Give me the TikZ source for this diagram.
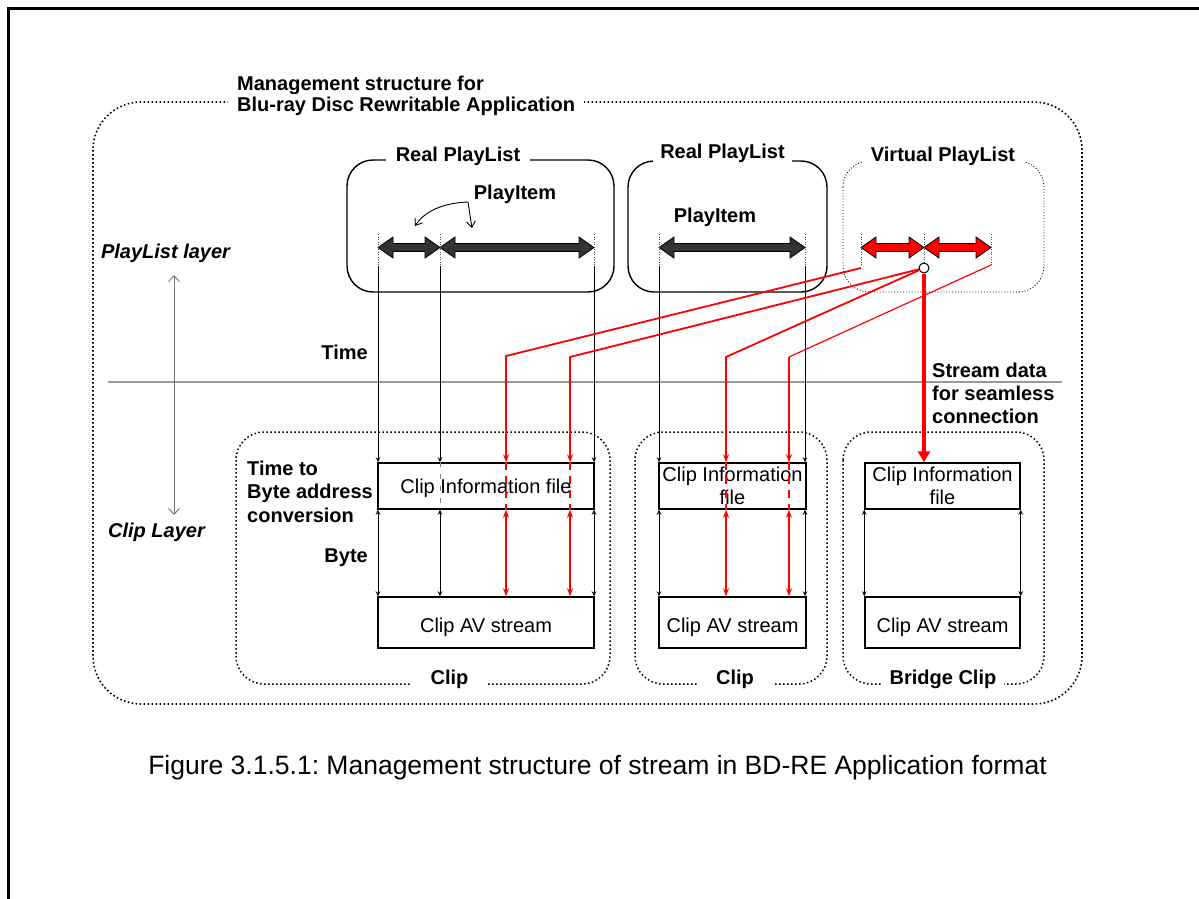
\documentclass[tikz,border=0pt]{standalone}
\usepackage{fontspec}
\setmainfont{Liberation Sans}
\usetikzlibrary{arrows.meta,positioning}
\frenchspacing

% block arrow of one PlayItem: left x, right x, fill colour
\newcommand{\itemarrow}[3]{%
  \filldraw[fill=#3, draw=black, line width=0.8pt]
    (#1,247.5) -- ({#1+15},237) -- ({#1+15},243.5) -- ({#2-15},243.5)
    -- ({#2-15},237) -- (#2,247.5) -- ({#2-15},258) -- ({#2-15},251.5)
    -- ({#1+15},251.5) -- ({#1+15},258) -- cycle;
}

\begin{document}
\begin{tikzpicture}[x=1pt, y=-1pt,
    txt/.style={inner sep=0pt, font=\fontsize{20}{23}\selectfont},
    lbl/.style={inner sep=0pt, font=\fontsize{20}{23}\selectfont\bfseries},
    layer/.style={inner sep=0pt, font=\fontsize{20}{23}\selectfont\bfseries\itshape},
    gap/.style={lbl, fill=white, inner xsep=#1, inner ysep=3pt},
    gap/.default=8pt,
    outerbox/.style={line width=1.6pt, dash pattern=on 1.6pt off 2.4pt, rounded corners=48pt},
    plbox/.style={draw, line width=1.4pt, rounded corners=26pt},
    vplbox/.style={draw, line width=0.9pt, dash pattern=on 0.9pt off 2pt, rounded corners=26pt},
    clipbox/.style={draw, line width=1.5pt, dash pattern=on 1.5pt off 2.5pt, rounded corners=28pt},
    filebox/.style={draw, line width=1.5pt, inner sep=0pt, align=center, font=\fontsize{20}{23}\selectfont},
    tick/.style={line width=0.7pt, black!70, dash pattern=on 1pt off 1.5pt},
    conn/.style={line width=1pt, -{Stealth[length=5pt, width=4.5pt]}},
    both/.style={line width=1pt, {Stealth[length=5pt, width=4.5pt]}-{Stealth[length=5pt, width=4.5pt]}},
    inside/.style={line width=1pt, black!50, dash pattern=on 5pt off 7pt},
    redconn/.style={red, line width=1.8pt, -{Stealth[length=8pt, width=6pt]}},
    redboth/.style={red, line width=1.8pt, {Stealth[length=8pt, width=6pt]}-{Stealth[length=8pt, width=6pt]}},
    redinside/.style={red, line width=1.8pt, dash pattern=on 8pt off 6pt},
    barb/.style={line width=0.9pt, -{Straight Barb[length=6pt, width=9pt]}},
  ]
  \useasboundingbox (0,0) rectangle (1199,899);
  % page frame
  \draw[line width=3pt] (8,905) -- (8,9) -- (1205,9);

  % management structure
  \draw[outerbox] (93,102) rectangle (1082,704);
  \node[lbl, anchor=base west] (ttl1) at (237,90) {Management structure for};
  \node[gap=9pt, anchor=base west] (ttl2) at (228,111) {Blu-ray Disc Rewritable Application};

  % layers
  \draw[line width=2.7pt, black!40] (108,382) -- (1062,382);
  \draw[line width=0.9pt, black!55, {Straight Barb[length=6pt, width=11pt]}-{Straight Barb[length=6pt, width=11pt]}] (174,275) -- (174,515);
  \node[layer, anchor=base] (plyr) at (165.5,258) {PlayList layer};
  \node[layer, anchor=base] (clyr) at (156.5,537) {Clip Layer};
  \node[lbl, anchor=base east] (time) at (368,359) {Time};
  \node[lbl, anchor=base east] (byte) at (368,562) {Byte};
  \node[lbl, anchor=base west] (conv1) at (247,475) {Time to};
  \node[lbl, anchor=base west] (conv2) at (247,498) {Byte address};
  \node[lbl, anchor=base west] (conv3) at (247,522) {conversion};

  % PlayLists
  \draw[plbox] (347,160) rectangle (614,292);
  \node[gap=10pt, anchor=base] (rpl1) at (458,161) {Real PlayList};
  \draw[plbox] (628,161) rectangle (827,292);
  \node[gap=7pt, anchor=base] (rpl2) at (722.5,158) {Real PlayList};
  \draw[vplbox] (843,161) rectangle (1044,292);
  \node[gap=8.5pt, anchor=base] (vpl) at (943,161) {Virtual PlayList};

  \node[lbl, anchor=base] (item1) at (515,199) {PlayItem};
  \node[lbl, anchor=base] (item2) at (715,222) {PlayItem};
  \coordinate (isrc) at (468,202);
  \draw[barb] (isrc) .. controls (443,203) and (425,211) .. (415,226);
  \draw[barb] (isrc) -- (472,228);

  \itemarrow{378}{440}{black!80}
  \itemarrow{440}{594}{black!80}
  \itemarrow{659}{805}{black!80}
  \itemarrow{861}{924}{red}
  \itemarrow{924}{991}{red}
  \foreach \x in {378,440,594,659,805,861,991}
    \draw[tick] (\x,234) -- (\x,266);
  \draw[tick] (924,234) -- (924,262);

  % Clips
  \draw[clipbox] (236,432) rectangle (610,684);
  \node[gap=20pt, anchor=base] (clip1) at (449.5,684) {Clip};
  \draw[clipbox] (635,432) rectangle (827,684);
  \node[gap=19.5pt, anchor=base] (clip2) at (735,684) {Clip};
  \draw[clipbox] (843,432) rectangle (1044,684);
  \node[gap=8pt, anchor=base] (bclip) at (943,684) {Bridge Clip};

  \node[filebox, minimum width=216pt, minimum height=46pt, text height=14pt, text depth=0pt] (ci1) at (486,486) {Clip Information file};
  \node[filebox, minimum width=216pt, minimum height=51pt, text height=19pt, text depth=0pt] (av1) at (486,622.5) {Clip AV stream};
  \node[filebox, minimum width=147pt, minimum height=46pt] (ci2) at (732.5,486) {Clip Information\\file};
  \node[filebox, minimum width=147pt, minimum height=51pt, text height=19pt, text depth=0pt] (av2) at (732.5,622.5) {Clip AV stream};
  \node[filebox, minimum width=155pt, minimum height=46pt] (ci3) at (942.5,486) {Clip Information\\file};
  \node[filebox, minimum width=155pt, minimum height=51pt, text height=19pt, text depth=0pt] (av3) at (942.5,622.5) {Clip AV stream};

  % time to byte: real PlayLists
  \coordinate (ra) at (378,266);
  \coordinate (rb) at (440,266);
  \coordinate (rc) at (594,266);
  \coordinate (rd) at (659,266);
  \coordinate (re) at (805,266);
  \foreach \p/\c/\s in {ra/ci1/av1, rb/ci1/av1, rc/ci1/av1, rd/ci2/av2, re/ci2/av2} {
    \draw[conn] (\p) -- (\p |- \c.north);
    \draw[both] (\p |- \c.south) -- (\p |- \s.north);
  }
  \draw[inside] (rb |- ci1.north) -- (rb |- ci1.south);
  \draw[both] (ci3.south west) -- (av3.north west);
  \draw[both] (ci3.south east) -- (av3.north east);

  % time to byte: virtual PlayList
  \node[circle, draw, fill=white, line width=1pt, minimum size=10pt, inner sep=0pt] (join) at (924,268) {};
  \coordinate (va) at (861,268);
  \coordinate (vc) at (991,265);
  \coordinate (ka) at (506,356);
  \coordinate (kb) at (570,357);
  \coordinate (kc) at (726,357);
  \coordinate (kd) at (789,357);
  \draw[redconn] (va) -- (ka) -- (ka |- ci1.north);
  \draw[redconn] (join) -- (kb) -- (kb |- ci1.north);
  \draw[redconn] (join) -- (kc) -- (kc |- ci2.north);
  \draw[red, line width=1.2pt] (vc) -- (kd);
  \draw[redconn] (kd) -- (kd |- ci2.north);
  \foreach \k/\c/\s in {ka/ci1/av1, kb/ci1/av1, kc/ci2/av2, kd/ci2/av2} {
    \draw[redinside] (\k |- \c.north) -- (\k |- \c.south);
    \draw[redboth] (\k |- \c.south) -- (\k |- \s.north);
  }
  \draw[red, line width=4.5pt, -{Triangle[length=11pt, width=12pt]}] (join) -- (join |- ci3.north);
  \node[lbl, anchor=base west] (seam1) at (932,377) {Stream data};
  \node[lbl, anchor=base west] (seam2) at (932,400) {for seamless};
  \node[lbl, anchor=base west] (seam3) at (932,423) {connection};

  % caption
  \node[txt, font=\fontsize{26.5}{30}\selectfont, anchor=base] (cap) at (597.5,774) {Figure 3.1.5.1: Management structure of stream in BD-RE Application format};
\end{tikzpicture}
\end{document}
